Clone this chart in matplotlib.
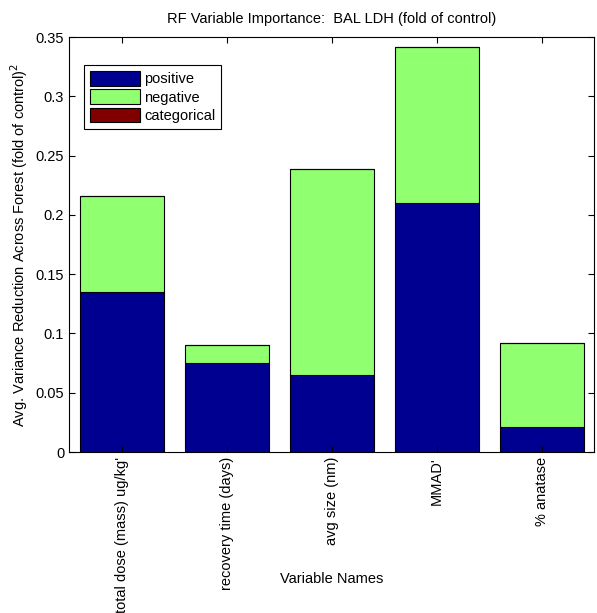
import matplotlib

matplotlib.use("Agg")
import matplotlib.pyplot as plt
import numpy as np

plt.rcParams["font.family"] = ["Liberation Sans", "DejaVu Sans"]

variables = [
    "total dose (mass) ug/kg'",
    "recovery time (days)",
    "avg size (nm)",
    "MMAD'",
    "% anatase",
]
positive = [0.135, 0.075, 0.065, 0.210, 0.021]
negative = [0.081, 0.015, 0.174, 0.132, 0.071]
categorical = [0.0, 0.0, 0.0, 0.0, 0.0]

series_names = ["positive", "negative", "categorical"]
series_colors = ["#000090", "#90FF70", "#800000"]

FS = 10.5

fig = plt.figure(figsize=(5.97, 6.13), dpi=100)
ax = fig.add_axes([0.1156, 0.2626, 0.8794, 0.677])

x = np.arange(1, len(variables) + 1)
bottom = np.zeros(len(variables))
for name, vals, color in zip(series_names, [positive, negative, categorical], series_colors):
    ax.bar(x, vals, width=0.8, bottom=bottom, color=color, edgecolor="black",
           linewidth=0.8, label=name)
    bottom += np.array(vals)

ax.set_xlim(0.5, 5.5)
ax.set_ylim(0, 0.35)
ax.set_yticks(np.arange(0, 0.351, 0.05))
ax.set_yticklabels(["0", "0.05", "0.1", "0.15", "0.2", "0.25", "0.3", "0.35"])
ax.set_xticks(x)
ax.set_xticklabels(variables, rotation=90, va="top", ha="center")
ax.tick_params(direction="in", top=True, right=True, labelsize=FS, length=4, width=0.8)
for sp in ax.spines.values():
    sp.set_linewidth(0.8)

ax.set_title("RF Variable Importance:  BAL LDH (fold of control)", fontsize=FS, pad=10)
ax.set_ylabel("Avg. Variance Reduction Across Forest (fold of control)$^2$", fontsize=FS)
ax.set_xlabel("Variable Names", fontsize=FS)
ax.xaxis.set_label_coords(0.5, -0.29)

leg = ax.legend(loc="upper left", bbox_to_anchor=(0.015, 0.95), fontsize=FS,
                fancybox=False, edgecolor="black", framealpha=1,
                handlelength=3.4, handleheight=1.2, handletextpad=0.3,
                labelspacing=0.2, borderpad=0.4)
leg.get_frame().set_linewidth(0.8)

fig.savefig("out.png", dpi=100)
